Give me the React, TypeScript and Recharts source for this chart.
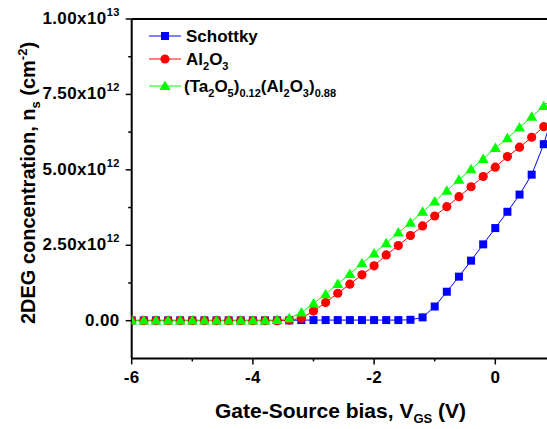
import React from 'react';
import { LineChart, Line, XAxis, YAxis, ReferenceLine, Legend } from 'recharts';

// Gate-source bias (V)
const vgs = [
  -6.0, -5.8, -5.6, -5.4, -5.2, -5.0, -4.8, -4.6, -4.4, -4.2, -4.0, -3.8,
  -3.6, -3.4, -3.2, -3.0, -2.8, -2.6, -2.4, -2.2, -2.0, -1.8, -1.6, -1.4,
  -1.2, -1.0, -0.8, -0.6, -0.4, -0.2, 0.0, 0.2, 0.4, 0.6, 0.8, 1.0,
];
// 2DEG concentration in units of 1e12 cm^-2
const schottky = [
  0.01, 0.01, 0.01, 0.01, 0.01, 0.01, 0.01, 0.01, 0.01, 0.01, 0.01, 0.01,
  0.01, 0.01, 0.02, 0.02, 0.02, 0.02, 0.02, 0.02, 0.02, 0.02, 0.02, 0.03,
  0.11, 0.47, 0.96, 1.46, 1.99, 2.53, 3.07, 3.61, 4.18, 4.84, 5.85, 7.2,
];
const al2o3 = [
  0.0, 0.0, 0.0, 0.0, 0.0, 0.0, 0.0, 0.0, 0.0, 0.0, 0.0, 0.0,
  0.0, 0.02, 0.08, 0.32, 0.6, 0.91, 1.21, 1.52, 1.82, 2.18, 2.49, 2.82,
  3.14, 3.47, 3.78, 4.11, 4.44, 4.78, 5.09, 5.44, 5.75, 6.08, 6.43, 6.76,
];
const taalo = [
  0.01, 0.01, 0.01, 0.01, 0.01, 0.01, 0.01, 0.01, 0.01, 0.01, 0.01, 0.01,
  0.02, 0.08, 0.27, 0.57, 0.88, 1.22, 1.55, 1.9, 2.23, 2.57, 2.92, 3.25,
  3.61, 3.95, 4.31, 4.67, 5.02, 5.36, 5.72, 6.05, 6.4, 6.76, 7.12, 7.47,
];

const xTicks = [-6, -5, -4, -3, -2, -1, 0, 1];
const xMajor = [-6, -4, -2, 0];
const yTicks = [-1.25, 0, 1.25, 2.5, 3.75, 5, 6.25, 7.5, 8.75, 10];
const yMajor = [0, 2.5, 5, 7.5, 10];

// legend labels as [text, isSubscript] segments
const legendLabels: [string, boolean][][] = [
  [['Schottky', false]],
  [['Al', false], ['2', true], ['O', false], ['3', true]],
  [['(Ta', false], ['2', true], ['O', false], ['5', true], [')', false], ['0.12', true],
   ['(Al', false], ['2', true], ['O', false], ['3', true], [')', false], ['0.88', true]],
];

const data = vgs.map((x, i) => ({ x, s: schottky[i], a: al2o3[i], t: taalo[i] }));

const FONT = '"Liberation Sans", Arial, sans-serif';
const BLUE = '#0000FF';
const RED = '#FF0000';
const GREEN = '#00FF00';

const Square = (p: any) => {
  const { cx, cy } = p;
  if (cx == null || cy == null) return <g />;
  return <rect x={cx - 4} y={cy - 4} width={8} height={8} fill={BLUE} />;
};
const Circle = (p: any) => {
  const { cx, cy } = p;
  if (cx == null || cy == null) return <g />;
  return <circle cx={cx} cy={cy} r={4.6} fill={RED} />;
};
const Tri = (p: any) => {
  const { cx, cy } = p;
  if (cx == null || cy == null) return <g />;
  return <polygon points={`${cx},${cy - 5.5} ${cx - 5.5},${cy + 4} ${cx + 5.5},${cy + 4}`} fill={GREEN} />;
};

const XTick = (props: any) => {
  const { x, y, payload } = props;
  const v = payload.value;
  const major = xMajor.includes(v);
  return (
    <g>
      <line x1={x} x2={x} y1={y} y2={y + (major ? 6 : 3)} stroke="#000" strokeWidth={1.5} />
      {major && (
        <text x={x} y={y + 25} textAnchor="middle" fontSize={17} letterSpacing={0.3} fontWeight="bold" fontFamily={FONT} fill="#000">
          {v}
        </text>
      )}
    </g>
  );
};

const YTick = (props: any) => {
  const { x, y, payload } = props;
  const v = payload.value;
  if (v < 0) return <g />;
  const major = yMajor.includes(v);
  let label: React.ReactNode = null;
  if (major) {
    if (v === 0) {
      label = '0.00';
    } else {
      const val = v * 1e12;
      const exp = Math.floor(Math.log10(val) + 1e-9);
      const mant = (val / Math.pow(10, exp)).toFixed(2);
      label = (
        <>
          {`${mant}x10`}
          <tspan dy={-8} fontSize={11}>{exp}</tspan>
        </>
      );
    }
  }
  return (
    <g>
      <line x1={x} x2={x - (major ? 6 : 3.5)} y1={y} y2={y} stroke="#000" strokeWidth={1.5} />
      {major && (
        <text x={x - 12} y={y + 5} textAnchor="end" fontSize={17} letterSpacing={0.4} fontWeight="bold" fontFamily={FONT} fill="#000">
          {label}
        </text>
      )}
    </g>
  );
};

const XTitle = () => (
  <text x={215} y={418} textAnchor="start" fontSize={21} fontWeight="bold" fontFamily={FONT} fill="#000">
    Gate-Source bias, V
    <tspan dy={5} fontSize={13}>GS</tspan>
    <tspan dy={-5}> (V)</tspan>
  </text>
);

const YTitle = () => (
  <text
    x={35}
    y={183}
    transform="rotate(-90, 35, 183)"
    textAnchor="middle"
    fontSize={20}
    fontWeight="bold"
    fontFamily={FONT}
    fill="#000"
  >
    2DEG concentration, n
    <tspan dy={5} fontSize={13}>s</tspan>
    <tspan dy={-5}> (cm</tspan>
    <tspan dy={-8} fontSize={13}>-2</tspan>
    <tspan dy={8}>)</tspan>
  </text>
);

const renderSegments = (segs: [string, boolean][]) => {
  let prevSub = false;
  return segs.map(([t, sub], i) => {
    const dy = sub === prevSub ? 0 : sub ? 5 : -5;
    prevSub = sub;
    return (
      <tspan key={i} dy={dy} fontSize={sub ? 11 : 17}>
        {t}
      </tspan>
    );
  });
};

const legendItems = [
  { key: 's', color: BLUE, y: 36 },
  { key: 'a', color: RED, y: 59 },
  { key: 't', color: GREEN, y: 86 },
];

const LegendContent = () => (
  <svg width={420} height={110} style={{ display: 'block' }}>
    {legendItems.map((it, idx) => (
      <g key={it.key}>
        <line x1={149} x2={181} y1={it.y} y2={it.y} stroke={it.color} strokeWidth={1} />
        {it.key === 's' && <Square cx={165} cy={it.y} />}
        {it.key === 'a' && <Circle cx={165} cy={it.y} />}
        {it.key === 't' && <Tri cx={165} cy={it.y} />}
        <text x={idx === 2 ? 184 : 186} y={it.y + 6} fontSize={17} fontWeight="bold" fontFamily={FONT} fill="#000">
          {renderSegments(legendLabels[idx])}
        </text>
      </g>
    ))}
  </svg>
);

export default function App() {
  return (
    <div
      style={{
        position: 'fixed',
        left: 0,
        top: 0,
        width: 547,
        height: 429,
        overflow: 'hidden',
        background: '#fff',
      }}
    >
      <LineChart width={600} height={429} data={data} margin={{ top: 19, right: 44.1, bottom: 0, left: 0 }}>
        <XAxis
          type="number"
          dataKey="x"
          domain={[-6, 1]}
          ticks={xTicks}
          interval={0}
          allowDataOverflow
          height={70.6}
          tickSize={0}
          tickMargin={0}
          tickLine={false}
          axisLine={{ stroke: '#000', strokeWidth: 2 }}
          tick={<XTick />}
          label={{ content: () => <XTitle /> }}
        />
        <YAxis
          type="number"
          domain={[-1.25, 10]}
          ticks={yTicks}
          interval={0}
          allowDataOverflow
          width={131.7}
          tickSize={0}
          tickMargin={0}
          tickLine={false}
          axisLine={{ stroke: '#000', strokeWidth: 2 }}
          tick={<YTick />}
          label={{ content: () => <YTitle /> }}
        />
        <ReferenceLine y={10} stroke="#000" strokeWidth={2} ifOverflow="visible" />
        <Legend
          layout="horizontal"
          verticalAlign="middle"
          align="center"
          wrapperStyle={{ position: 'absolute', left: 0, top: 0, width: 420, height: 110 }}
          content={() => <LegendContent />}
        />
        <Line type="linear" dataKey="s" stroke={BLUE} strokeWidth={1} dot={<Square />} activeDot={false} isAnimationActive={false} />
        <Line type="linear" dataKey="a" stroke={RED} strokeWidth={1} dot={<Circle />} activeDot={false} isAnimationActive={false} />
        <Line type="linear" dataKey="t" stroke={GREEN} strokeWidth={1} dot={<Tri />} activeDot={false} isAnimationActive={false} />
      </LineChart>
    </div>
  );
}
